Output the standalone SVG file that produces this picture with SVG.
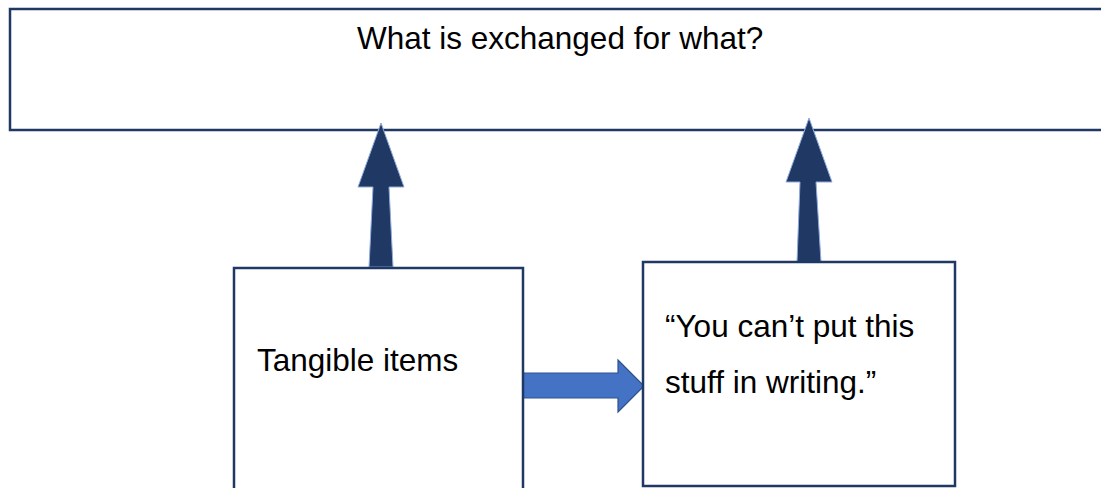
<svg xmlns="http://www.w3.org/2000/svg" width="1101" height="488" viewBox="0 0 1101 488">
  <style>
    .box { fill: #ffffff; stroke: #203864; stroke-width: 2.5; }
    .label { font-family: "Liberation Sans", Arial, sans-serif; font-size: 31.5px; fill: #000000; }
    .up { fill: #203864; stroke: #8faadc; stroke-width: 1; stroke-linejoin: miter; }
    .right { fill: #4472c4; stroke: #2f528f; stroke-width: 1.2; }
  </style>
  <rect width="1101" height="488" fill="#ffffff"/>

  <g id="exchange">
    <rect class="box" x="10" y="9" width="1100" height="121"/>
    <text class="label" x="357" y="49">What is exchanged for what?</text>
  </g>

  <g id="connectors">
    <polygon class="up" points="381,123 404,187 389,187 393,267 369,267 373,187 358,187"/>
    <polygon class="up" points="809,118 832,182 816,182 821,262 797,262 800,182 786,182"/>
    <polygon class="right" points="523,373 618,373 618,360 644,386 618,412 618,398 523,398"/>
  </g>

  <g id="tangible">
    <rect class="box" x="234" y="268" width="289" height="240"/>
    <text class="label" x="257" y="371">Tangible items</text>
  </g>

  <g id="unwritten">
    <rect class="box" x="643" y="262" width="312" height="224"/>
    <text class="label" x="665" y="337">“You can’t put this</text>
    <text class="label" x="665" y="393">stuff in writing.”</text>
  </g>
</svg>
